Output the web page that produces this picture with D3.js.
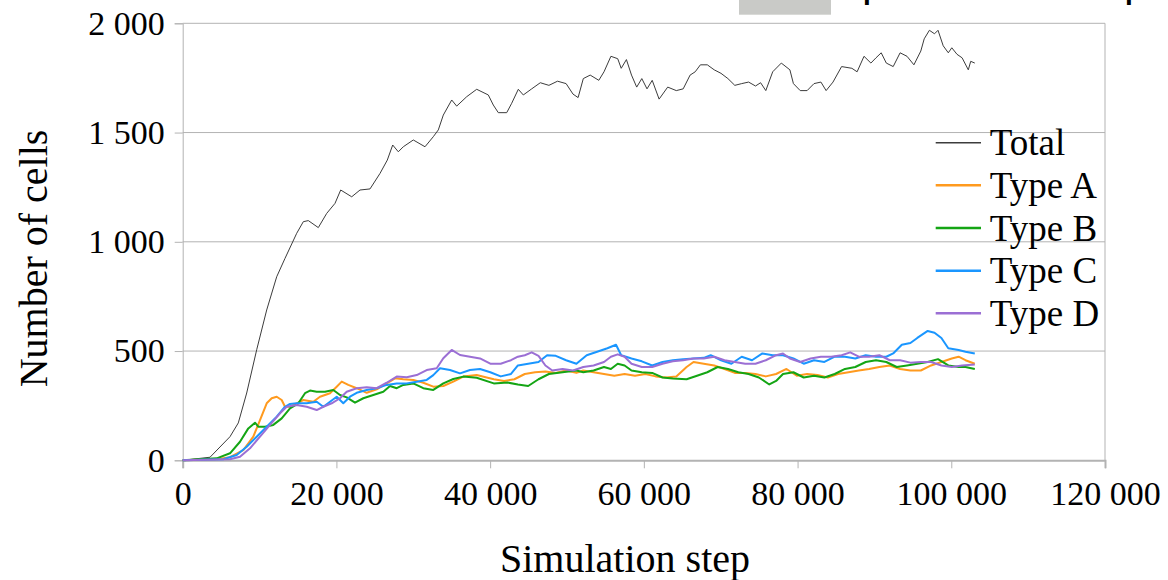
<!DOCTYPE html>
<html>
<head>
<meta charset="utf-8">
<script src="https://cdn.jsdelivr.net/npm/d3@7"></script>
<style>
  body { margin: 0; background: #fff; }
  text { font-family: "Liberation Serif", "Times New Roman", serif; fill: #000; }
</style>
</head>
<body>
<svg id="chart" width="1168" height="580"></svg>
<script>
// tick values
const xTicks = [0, 20000, 40000, 60000, 80000, 100000, 120000];
const yTicks = [0, 500, 1000, 1500, 2000];

// [simulation step, number of cells]
const total = [[0,0],[3552,14],[6154,108],[7234,171],[8327,308],[9628,506],[10929,688],[12230,840],[13310,924],[14833,1039],[15691,1092],[16342,1097],[17643,1065],[18736,1130],[19816,1176],[20557,1237],[21989,1206],[23069,1237],[24370,1242],[25671,1313],[26621,1374],[27323,1443],[28052,1412],[28703,1435],[30004,1466],[31526,1435],[32606,1481],[33256,1512],[33907,1580],[35000,1649],[35650,1621],[36951,1664],[38253,1698],[39762,1672],[40413,1626],[41063,1591],[42156,1591],[42806,1634],[43665,1698],[44316,1672],[45409,1700],[46528,1728],[47647,1716],[48766,1735],[49885,1724],[50783,1676],[51446,1660],[52123,1747],[53020,1763],[54139,1739],[54816,1778],[55714,1849],[56599,1838],[57054,1794],[57731,1834],[58394,1763],[59070,1708],[59734,1747],[60410,1700],[61087,1739],[61984,1653],[63103,1708],[64222,1692],[65120,1700],[66018,1763],[66681,1778],[67358,1810],[68256,1810],[69154,1787],[70039,1771],[70937,1747],[71834,1716],[72732,1724],[73630,1731],[74528,1713],[75191,1728],[75868,1692],[76765,1778],[77884,1818],[79003,1787],[79459,1724],[80344,1692],[81242,1692],[82139,1724],[83037,1731],[83714,1692],[84611,1731],[85730,1802],[87070,1794],[87747,1778],[88645,1849],[89542,1818],[90206,1842],[90882,1865],[91546,1818],[92443,1802],[93341,1865],[94239,1849],[95137,1810],[96034,1873],[96477,1929],[97153,1968],[97817,1952],[98272,1968],[98949,1897],[99612,1865],[100068,1888],[100745,1858],[101408,1842],[102215,1787],[102527,1826],[103060,1818]];

const typeA = [[0,0],[4424,5],[6154,14],[7885,47],[9186,108],[10058,184],[10929,261],[11580,284],[12230,291],[12881,276],[13310,245],[13961,245],[14833,261],[15691,276],[16992,268],[17864,291],[19165,307],[20037,337],[20687,360],[21546,345],[22639,330],[23940,309],[25241,325],[26542,352],[27622,375],[28702,371],[30003,368],[31304,355],[32605,337],[33906,340],[35207,360],[36508,383],[38252,390],[40477,371],[41817,363],[43157,371],[44510,395],[45851,403],[47191,406],[48544,400],[49884,411],[51224,400],[52122,411],[53462,403],[54815,395],[56155,387],[57495,395],[58848,387],[60188,395],[61529,384],[62882,379],[64222,384],[65562,427],[66460,450],[67800,442],[69153,434],[70493,418],[71833,400],[73186,400],[74526,395],[75866,384],[77206,395],[78559,418],[79900,387],[81240,395],[82593,390],[83933,379],[85273,395],[86626,403],[87966,411],[89306,418],[90646,427],[92000,434],[93340,418],[94680,411],[96034,411],[97374,434],[98714,450],[100067,466],[100952,474],[101849,458],[103060,442]];

const typeB = [[0,0],[4424,9],[6154,32],[7455,85],[8535,146],[9407,172],[9836,154],[10708,154],[11788,162],[12881,192],[13961,238],[15041,261],[15913,307],[16563,319],[17435,314],[18515,314],[19595,322],[20467,299],[21338,288],[22418,264],[23498,284],[24799,299],[26100,314],[26972,340],[27843,330],[28702,345],[30003,352],[31304,330],[32605,322],[33906,352],[35207,372],[36508,383],[38252,378],[40477,352],[42260,356],[43613,347],[44953,340],[46294,371],[47647,395],[49429,403],[51225,411],[52122,403],[53462,411],[54815,427],[55713,418],[56598,442],[57495,434],[58393,411],[59734,403],[61087,400],[62427,379],[63767,374],[65562,371],[66916,387],[68256,403],[69596,427],[70949,418],[72289,403],[73629,395],[74969,379],[76322,347],[77207,363],[78105,395],[79458,403],[80798,379],[82138,387],[83492,379],[84832,395],[86172,418],[87512,427],[88865,450],[90205,458],[91546,450],[92899,427],[94239,434],[95579,442],[96932,450],[98272,463],[99612,434],[100952,427],[101850,427],[103060,418]];

const typeC = [[0,0],[5283,5],[7026,24],[8327,62],[9628,108],[10929,154],[12230,200],[13310,245],[13961,258],[14833,261],[16134,261],[17435,268],[18294,245],[19165,268],[20037,291],[20896,261],[21767,291],[22639,309],[23940,322],[25241,330],[26542,345],[27843,352],[29145,352],[30446,360],[31747,368],[32606,390],[33477,421],[34778,413],[36079,398],[37380,413],[38682,418],[40022,403],[41375,384],[42715,395],[43613,434],[44953,442],[46294,450],[47413,481],[48545,478],[49885,458],[51225,442],[52565,481],[53918,497],[55258,513],[56377,529],[57054,481],[58394,466],[59734,453],[61087,434],[62427,450],[63767,458],[65120,463],[66460,466],[67800,469],[68698,481],[70038,458],[71391,442],[72731,474],[74071,458],[75424,489],[76765,481],[78105,481],[79458,466],[80798,442],[82138,458],[83491,450],[84832,474],[86172,474],[87512,466],[88865,481],[90205,474],[91546,474],[92443,489],[93562,529],[94681,537],[95579,560],[96932,592],[97817,584],[98714,560],[99612,513],[100952,505],[101850,497],[103060,489]];

const typeD = [[0,0],[6154,5],[7455,16],[8756,55],[10058,108],[11359,162],[12660,215],[13531,245],[14833,253],[16134,245],[17435,230],[18294,245],[19386,261],[20466,284],[21338,314],[22639,330],[23940,334],[25241,330],[26542,355],[27843,383],[29145,380],[30446,390],[31747,413],[33048,421],[33907,467],[35000,505],[36079,482],[37380,474],[38682,466],[40022,442],[41375,442],[42715,458],[43613,474],[44511,481],[45409,494],[46294,478],[47192,434],[48089,411],[49429,418],[50783,411],[52123,427],[53462,434],[54815,450],[55713,474],[56598,485],[57496,474],[58394,442],[59734,427],[61087,427],[62427,442],[63767,453],[65120,458],[66460,466],[67800,466],[69153,474],[70493,458],[71833,450],[73186,442],[74526,442],[75866,458],[77206,481],[78105,489],[79003,466],[80344,450],[81697,466],[83037,474],[84377,474],[85730,481],[86849,494],[87967,474],[89307,474],[90647,481],[92000,458],[93340,458],[94681,447],[96034,450],[97374,450],[98714,434],[100068,427],[101408,434],[103060,438]];

const seriesNames = ["Total", "Type A", "Type B", "Type C", "Type D"];
const seriesData = [total, typeA, typeB, typeC, typeD];
const colors = ["#3c3c3c", "#ff9a1e", "#14a514", "#1a96ff", "#9b6fd4"];
const widths = [1, 2, 2, 2, 2];

const svg = d3.select("#chart");
const plotLeft = 182.7, plotRight = 1105, plotTop = 23.3, plotBottom = 460.3;

const x = d3.scaleLinear().domain([0, 120000]).range([plotLeft, plotRight]);
const y = d3.scaleLinear().domain([0, 2000]).range([plotBottom, plotTop]);
const fmt = d => d3.format(",")(d).replace(/,/g, " ");

// clipped heading from the panel above
svg.append("rect").attr("x", 739).attr("y", 0).attr("width", 92).attr("height", 14.7).attr("fill", "#c9cac7");
const head = svg.append("text").attr("y", -1)
  .style("font-family", "'Liberation Sans', Arial, sans-serif")
  .style("font-weight", "bold").style("font-size", "28px");
head.append("tspan").attr("x", 863).text("p");
head.append("tspan").attr("x", 1125).text("p");

// grid
svg.append("g").selectAll("line")
  .data(yTicks.filter(d => d > 0))
  .join("line")
  .attr("x1", plotLeft).attr("x2", plotRight)
  .attr("y1", d => y(d)).attr("y2", d => y(d))
  .attr("stroke", "#b3b3b3").attr("stroke-width", 1);

svg.append("line")
  .attr("x1", plotRight).attr("x2", plotRight).attr("y1", plotTop).attr("y2", plotBottom)
  .attr("stroke", "#b3b3b3").attr("stroke-width", 1);

// axes
const yAxis = svg.append("g")
  .attr("transform", `translate(${plotLeft},0)`)
  .call(d3.axisLeft(y).tickValues(yTicks).tickSize(8).tickPadding(10).tickFormat(fmt));

const xAxis = svg.append("g")
  .attr("transform", `translate(0,${plotBottom})`)
  .call(d3.axisBottom(x).tickValues(xTicks).tickSize(8).tickPadding(13).tickFormat(fmt));

[xAxis, yAxis].forEach(g => {
  g.selectAll("path, line").attr("stroke", "#b3b3b3");
  g.selectAll("text").style("font-size", "34px").style("font-family", "'Liberation Serif', serif");
});
xAxis.select(".domain").attr("stroke-width", 2);

// lines
const line = d3.line().x(d => x(d[0])).y(d => y(d[1]));

svg.append("g").selectAll("path")
  .data(seriesData)
  .join("path")
  .attr("fill", "none")
  .attr("stroke", (d, i) => colors[i])
  .attr("stroke-width", (d, i) => widths[i])
  .attr("stroke-linejoin", "round")
  .attr("d", line);

// legend
const legend = svg.append("g").selectAll("g")
  .data(seriesNames)
  .join("g")
  .attr("transform", (d, i) => `translate(935.7,${142.7 + i * 42.65})`);

legend.append("line")
  .attr("x1", 0).attr("x2", 45.3)
  .attr("stroke", (d, i) => colors[i])
  .attr("stroke-width", (d, i) => widths[i] + 0.5);

legend.append("text")
  .attr("x", 54).attr("y", 12.5)
  .style("font-size", "37px")
  .text(d => d);

// axis titles
svg.append("text")
  .attr("text-anchor", "middle")
  .attr("x", 625).attr("y", 572)
  .style("font-size", "40px")
  .text("Simulation step");

svg.append("text")
  .attr("text-anchor", "middle")
  .attr("transform", "translate(47,258.5) rotate(-90)")
  .style("font-size", "40px")
  .text("Number of cells");
</script>
</body>
</html>
